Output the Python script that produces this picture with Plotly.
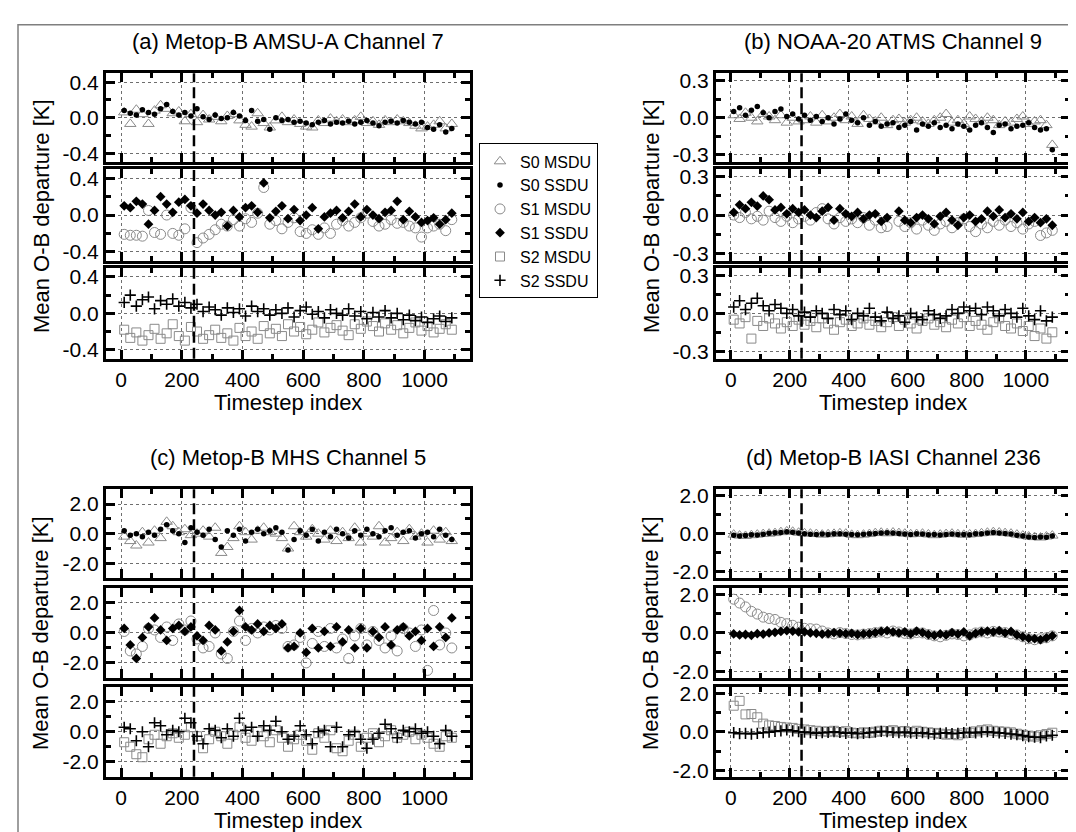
import plotly.graph_objects as go

W, H = 1076, 832

# ---------------- data (timestep index, mean O-B departure in K) ----------------
timesteps = list(range(10, 1100, 20))

a_s0_msdu = [0.06, -0.07, 0.09, 0.04, -0.07, 0.08, 0.14, 0.10, 0.05, 0.07, -0.04, 0.04,
             -0.05, 0.03, -0.02, 0.01, -0.04, 0.02, 0.04, -0.03, -0.08, -0.10, 0.05, -0.06,
             -0.11, -0.03, 0.01, -0.05, -0.02, -0.07, -0.10, -0.11, -0.03, -0.06, -0.01, -0.04,
             -0.02, -0.05, -0.03, 0.01, -0.06, -0.04, -0.08, -0.03, -0.05, -0.02, -0.04, -0.06,
             -0.09, -0.12, -0.10, -0.08, -0.04, -0.12, -0.07]
a_s0_ssdu = [0.08, 0.05, 0.03, 0.09, 0.06, 0.04, 0.10, 0.15, 0.07, 0.03, 0.06, 0.02,
             0.10, 0.01, -0.02, 0.03, -0.01, 0.00, 0.06, 0.02, -0.03, 0.08, -0.04, -0.02,
             -0.13, 0.00, -0.03, -0.02, -0.05, -0.04, -0.06, -0.08, -0.05, -0.03, -0.07, -0.05,
             -0.06, -0.04, -0.07, -0.05, -0.03, -0.06, -0.09, -0.05, -0.04, -0.06, -0.03, -0.05,
             -0.07, -0.05, -0.11, -0.13, -0.08, -0.16, -0.12]
a_s1_msdu = [-0.21, -0.22, -0.22, -0.23, 0.05, -0.19, -0.21, 0.00, -0.20, -0.22, -0.15, 0.08,
             -0.30, -0.25, -0.21, -0.16, -0.10, -0.12, -0.05, -0.12, -0.04, -0.08, 0.02, 0.30,
             -0.10, -0.06, -0.15, -0.08, -0.03, -0.18, -0.20, -0.16, -0.21, -0.14, -0.20, -0.10,
             -0.06, -0.12, -0.08, -0.03, 0.02, -0.07, -0.12, -0.10, -0.05, -0.09, -0.08, -0.12,
             -0.14, -0.24, -0.14, -0.12, -0.10, -0.17, -0.05]
a_s1_ssdu = [0.10, 0.08, 0.15, 0.12, -0.10, 0.05, 0.20, 0.12, 0.03, 0.14, 0.17, 0.10,
             0.02, 0.12, 0.05, 0.00, 0.03, -0.12, 0.05, -0.02, 0.08, 0.10, 0.03, 0.35,
             -0.03, 0.04, 0.10, -0.04, 0.06, -0.06, 0.00, 0.08, -0.15, -0.02, 0.02, 0.05,
             -0.03, 0.04, 0.12, -0.02, 0.06, 0.00, -0.04, 0.03, 0.05, 0.15, -0.05, 0.04,
             -0.02, -0.08, -0.06, -0.03, -0.10, -0.05, 0.02]
a_s2_msdu = [-0.18, -0.27, -0.21, -0.30, -0.24, -0.17, -0.28, -0.22, -0.12, -0.25, -0.30, -0.15,
             -0.20, -0.28, -0.24, -0.18, -0.27, -0.22, -0.30, -0.16, -0.25, -0.20, -0.28, -0.14,
             -0.22, -0.17, -0.25, -0.12, -0.20, -0.15, -0.23, -0.18, -0.10, -0.21, -0.16, -0.13,
             -0.19, -0.24, -0.12, -0.17, -0.09, -0.14, -0.20, -0.11, -0.18, -0.13, -0.22, -0.16,
             -0.10, -0.19, -0.14, -0.21, -0.17, -0.12, -0.18]
a_s2_ssdu = [0.12, 0.20, 0.08, 0.15, 0.18, 0.05, 0.14, 0.10, 0.16, 0.08, 0.12, 0.06,
             0.10, 0.02, 0.07, 0.04, -0.02, 0.06, 0.01, 0.05, -0.03, 0.08, 0.02, 0.05,
             -0.02, 0.04, 0.00, 0.06, -0.04, 0.03, 0.07, -0.01, 0.02, -0.05, 0.04, 0.00,
             -0.02, 0.05, -0.03, 0.02, -0.06, 0.01, -0.04, 0.03, -0.05, 0.00, -0.07, -0.02,
             -0.08, -0.04, -0.10, -0.06, -0.03, -0.09, -0.05]

b_s0_msdu = [0.02, -0.01, 0.04, 0.00, -0.03, 0.03, 0.01, -0.02, 0.02, -0.04, 0.00, -0.03,
             -0.02, 0.01, -0.04, 0.02, -0.03, 0.00, 0.03, -0.02, 0.01, -0.05, 0.02, -0.01,
             -0.03, 0.00, -0.06, -0.02, -0.01, -0.04, -0.02, 0.00, -0.03, -0.05, -0.02, 0.00,
             0.03, -0.04, -0.02, -0.05, 0.01, -0.01, -0.03, 0.00, -0.02, -0.06, -0.03, -0.04,
             -0.01, 0.01, -0.05, -0.03, -0.02, -0.06, -0.22]
b_s0_ssdu = [0.05, 0.08, 0.02, 0.06, 0.09, 0.04, 0.00, 0.05, 0.07, 0.01, 0.03, -0.01,
             0.02, -0.02, 0.01, -0.03, 0.00, -0.05, -0.01, 0.03, -0.02, -0.04, 0.00, -0.06,
             -0.03, -0.07, -0.05, -0.04, -0.08, -0.06, -0.03, -0.10, -0.05, -0.07, -0.04, -0.08,
             -0.06, -0.09, -0.05, -0.07, -0.10, -0.06, -0.04, -0.08, -0.12, -0.06, -0.05, -0.09,
             -0.07, -0.06, -0.04, -0.08, -0.10, -0.09, -0.26]
b_s1_msdu = [0.00, -0.02, 0.02, -0.03, -0.01, -0.04, 0.03, -0.02, -0.05, -0.01, -0.06, -0.03,
             -0.01, -0.04, 0.02, 0.05, -0.03, -0.07, -0.02, -0.05, -0.03, -0.06, -0.02, -0.08,
             -0.04, -0.10, -0.09, None, -0.05, -0.09, -0.06, -0.11, -0.04, -0.08, -0.12, -0.07,
             -0.05, -0.10, -0.06, -0.03, -0.09, -0.13, -0.07, -0.10, -0.05, -0.08, -0.04, -0.09,
             -0.06, -0.11, -0.07, -0.05, -0.16, -0.14, -0.12]
b_s1_ssdu = [0.02, 0.08, 0.05, 0.10, 0.07, 0.15, 0.12, 0.04, 0.06, 0.01, 0.05, 0.02,
             0.04, 0.00, -0.02, 0.03, 0.06, -0.04, 0.05, 0.01, -0.01, 0.02, -0.03, 0.00,
             0.01, -0.05, -0.02, None, 0.03, -0.04, -0.06, -0.02, 0.00, -0.03, -0.07, -0.01,
             0.02, -0.04, -0.08, -0.02, 0.00, -0.05, -0.03, 0.03, -0.01, 0.04, -0.02, 0.01,
             -0.03, 0.02, -0.05, -0.02, -0.06, -0.03, -0.08]
b_s2_msdu = [-0.05, -0.08, -0.03, -0.20, -0.06, -0.10, -0.04, -0.08, -0.12, -0.07, -0.10, -0.05,
             -0.09, -0.06, -0.11, -0.04, -0.08, -0.13, -0.07, -0.05, -0.10, -0.08, -0.04, -0.09,
             -0.06, -0.11, -0.07, -0.03, -0.10, -0.05, -0.08, -0.12, -0.06, -0.04, -0.09, -0.07,
             -0.11, -0.05, -0.08, -0.03, -0.10, -0.06, -0.09, -0.13, -0.07, -0.04, -0.10, -0.12,
             -0.08, -0.14, -0.10, -0.18, -0.12, -0.20, -0.15]
b_s2_ssdu = [0.05, 0.10, 0.03, 0.08, 0.12, 0.06, 0.02, 0.07, 0.04, 0.00, 0.03, -0.02,
             0.01, -0.03, 0.02, 0.00, -0.04, 0.03, -0.01, 0.02, -0.05, 0.00, -0.02, 0.04,
             -0.03, -0.06, 0.01, -0.04, -0.02, -0.07, 0.00, -0.03, -0.05, 0.02, -0.01, -0.04,
             -0.02, 0.03, 0.00, 0.05, 0.02, 0.04, -0.01, 0.05, 0.02, -0.02, 0.03, 0.00,
             -0.03, 0.04, -0.02, -0.05, 0.02, -0.06, -0.03]

c_s0_msdu = [-0.2, -0.5, -0.8, 0.1, -0.6, 0.2, -0.3, 0.8, 0.5, 0.1, 0.3, -0.1,
             0.0, 0.2, -0.2, 0.4, -1.3, -0.9, -0.3, 0.5, 0.1, -0.4, 0.2, 0.4,
             0.1, 0.0, -0.3, -1.0, 0.5, 0.1, -0.2, 0.3, 0.0, -0.4, 0.2, -0.5,
             0.1, -0.3, 0.4, -0.6, 0.0, -0.2, 0.5, -0.6, -0.3, 0.1, -0.5, 0.3,
             -0.2, 0.0, -0.6, 0.2, -0.4, 0.1, -0.5]
c_s0_ssdu = [0.2, -0.1, 0.0, -0.2, 0.1, -0.1, 0.3, 0.6, 0.2, 0.0, -0.6, 0.4,
             0.1, -0.1, 0.3, -0.4, -0.9, 0.2, -0.1, 0.3, -0.5, 0.1, 0.3, 0.0,
             0.2, 0.4, 0.1, -1.1, -0.4, 0.2, -0.1, 0.3, -0.5, 0.1, -0.2, 0.3,
             0.0, -0.3, 0.2, -0.1, 0.3, 0.0, -0.2, 0.2, 0.4, -0.1, 0.1, 0.2,
             -0.3, 0.0, 0.1, -0.2, 0.3, -0.1, -0.4]
c_s1_msdu = [0.1, -1.2, -1.4, -0.9, 0.3, 0.2, -0.3, 0.4, -0.5, 0.6, 0.2, 0.8,
             -0.4, -1.0, -0.9, 0.0, -1.4, -1.7, 0.1, 0.8, -0.5, 0.3, 0.0, 0.4,
             0.2, 0.5, 0.3, -0.9, -0.8, -0.3, -2.0, -0.7, 0.1, -0.9, 0.3, -1.0,
             -0.4, -1.7, -0.2, 0.3, -0.8, 0.1, -0.5, -1.0, -0.2, -1.2, 0.3, 0.0,
             -0.9, 0.2, -2.5, 1.5, -0.8, 0.0, -1.0]
c_s1_ssdu = [0.3, -0.8, -1.7, -0.3, 0.4, 1.0, 0.2, -0.5, 0.3, 0.5, 0.1, 0.4,
             -0.2, -0.5, 0.5, 0.2, -1.2, -0.6, 0.1, 1.5, 0.4, 0.2, 0.6, 0.1,
             0.5, 0.3, 0.6, -1.0, -0.9, 0.0, -1.3, 0.3, -1.0, 0.1, -0.9, 0.4,
             -0.6, 0.2, -1.0, 0.3, -1.0, 0.1, -0.3, 0.4, -0.8, 0.2, 0.4, -0.2,
             0.1, -0.5, 0.3, -0.9, 0.4, -0.3, 1.0]
c_s2_msdu = [-0.7, -1.0, -1.5, -1.7, -0.5, -0.2, -0.8, -0.3, -0.1, -0.4, -0.2, 0.3,
             -0.3, -1.1, -0.5, 0.0, -0.3, -0.8, -0.2, 0.3, -0.4, -0.6, 0.0, -0.3,
             -0.7, 0.1, -0.4, -1.0, -0.5, -0.2, -0.6, -1.2, -0.1, -0.4, 0.1, -1.1,
             -1.3, -0.6, -0.2, -1.0, -0.4, -0.1, -0.7, -0.3, 0.1, -0.4, -0.2, 0.0,
             -0.5, -0.2, -0.4, -0.8, -1.0, -0.3, -0.4]
c_s2_ssdu = [0.3, 0.2, -0.6, 0.0, -1.0, 0.6, 0.4, -0.2, 0.1, 0.0, 0.9, 0.6,
             -0.3, -0.8, 0.2, 0.1, -0.4, 0.2, -0.3, 0.9, 0.1, 0.3, -0.3, 0.4,
             0.1, 0.7, 0.0, -0.5, -0.3, 0.4, -0.2, -0.8, 0.0, 0.1, -1.0, 0.3,
             -1.0, -0.2, 0.0, -0.5, -1.1, -0.5, -0.1, 0.5, 0.2, -0.4, 0.1, 0.0,
             0.2, -0.1, 0.0, -0.3, -0.8, 0.1, -0.3]

d_s0_msdu = [-0.05, -0.10, -0.12, -0.08, -0.05, -0.02, 0.00, 0.03, 0.08, 0.12, 0.10, 0.05,
             0.02, 0.00, -0.02, -0.05, -0.03, -0.01, 0.02, 0.00, -0.06, -0.08, -0.05, -0.02,
             0.03, 0.05, 0.02, 0.06, 0.03, 0.00, -0.03, -0.02, 0.00, -0.04, -0.08, -0.05,
             -0.02, 0.00, -0.03, -0.06, -0.04, -0.02, 0.02, 0.05, 0.08, 0.06, 0.03, 0.00,
             -0.05, -0.10, -0.15, -0.18, -0.20, -0.15, -0.10]
d_s0_ssdu = [-0.08, -0.12, -0.10, -0.06, -0.07, -0.03, 0.02, 0.05, 0.06, 0.10, 0.08, 0.03,
             0.00, -0.03, -0.04, -0.02, -0.05, 0.00, 0.00, -0.03, -0.05, -0.06, -0.03, 0.00,
             0.01, 0.04, 0.05, 0.03, 0.01, -0.02, -0.04, 0.00, -0.02, -0.06, -0.05, -0.07,
             -0.04, -0.02, -0.05, -0.04, -0.06, -0.01, 0.00, 0.03, 0.06, 0.04, 0.01, -0.02,
             -0.08, -0.12, -0.18, -0.20, -0.17, -0.19, -0.12]
d_s1_msdu = [1.75, 1.55, 1.35, 1.12, 0.98, 0.82, 0.75, 0.70, 0.55, 0.48, 0.40, 0.30,
             0.24, 0.22, 0.20, 0.10, 0.00, -0.05, 0.02, -0.03, -0.08, -0.10, -0.06, -0.03,
             0.02, 0.05, 0.00, 0.10, 0.05, -0.02, -0.05, 0.02, 0.00, -0.08, -0.15, -0.20,
             -0.12, -0.05, -0.08, -0.15, -0.10, 0.00, 0.05, 0.00, 0.08, 0.05, 0.02, -0.05,
             -0.10, -0.20, -0.30, -0.35, -0.30, -0.25, -0.15]
d_s1_ssdu = [-0.05, -0.10, -0.08, -0.12, -0.04, -0.06, 0.00, 0.03, 0.08, 0.12, 0.10, 0.05,
             0.06, 0.00, -0.02, -0.06, -0.03, 0.02, -0.01, -0.04, -0.02, -0.08, -0.05, -0.03,
             0.02, 0.08, 0.12, 0.05, 0.00, 0.06, -0.05, 0.10, 0.02, -0.08, -0.12, -0.05,
             -0.10, 0.02, -0.06, 0.05, -0.15, -0.02, 0.06, 0.10, 0.05, 0.12, 0.00, 0.08,
             -0.10, -0.20, -0.28, -0.30, -0.35, -0.25, -0.15]
d_s2_msdu = [1.35, 1.60, 0.90, 0.92, 0.75, 0.42, 0.33, 0.30, 0.25, 0.22, 0.20, 0.15,
             0.12, 0.08, 0.05, 0.02, 0.00, 0.05, -0.02, 0.03, -0.05, -0.08, -0.03, -0.06,
             0.00, 0.05, 0.03, 0.08, 0.02, 0.04, -0.02, 0.05, 0.00, -0.03, -0.06, -0.10,
             -0.15, -0.12, -0.18, -0.08, -0.05, 0.02, 0.08, 0.12, 0.05, 0.02, 0.00, -0.03,
             -0.10, -0.15, -0.20, -0.25, -0.18, -0.12, -0.05]
d_s2_ssdu = [-0.05, -0.10, -0.08, -0.12, -0.08, -0.05, -0.02, 0.02, 0.05, 0.10, 0.05, 0.00,
             -0.02, -0.05, -0.08, -0.05, -0.03, 0.00, -0.04, -0.08, -0.06, -0.10, -0.08, -0.05,
             -0.02, 0.02, 0.00, -0.03, -0.05, -0.02, -0.06, -0.08, -0.05, -0.10, -0.12, -0.08,
             -0.06, -0.10, -0.08, -0.05, -0.03, -0.06, -0.02, 0.00, -0.03, -0.06, -0.08, -0.12,
             -0.15, -0.20, -0.25, -0.28, -0.30, -0.22, -0.18]

panel_titles = ["(a) Metop-B AMSU-A Channel 7", "(b) NOAA-20 ATMS Channel 9",
                "(c) Metop-B MHS Channel 5", "(d) Metop-B IASI Channel 236"]
series_names = [("S0 MSDU", "S0 SSDU"), ("S1 MSDU", "S1 SSDU"), ("S2 MSDU", "S2 SSDU")]
x_ticks = [0, 200, 400, 600, 800, 1000]
x_minor = [100, 300, 500, 700, 900, 1100]
y_major = [[-0.4, 0.0, 0.4], [-0.3, 0.0, 0.3], [-2.0, 0.0, 2.0], [-2.0, 0.0, 2.0]]
y_minor = [[-0.2, 0.2], [-0.15, 0.15], [-1.0, 1.0], [-1.0, 1.0]]
y_limits = [0.5, 0.36, 3.0, 2.33]
spinup_end = 240

panel_data = [
    [(a_s0_msdu, a_s0_ssdu), (a_s1_msdu, a_s1_ssdu), (a_s2_msdu, a_s2_ssdu)],
    [(b_s0_msdu, b_s0_ssdu), (b_s1_msdu, b_s1_ssdu), (b_s2_msdu, b_s2_ssdu)],
    [(c_s0_msdu, c_s0_ssdu), (c_s1_msdu, c_s1_ssdu), (c_s2_msdu, c_s2_ssdu)],
    [(d_s0_msdu, d_s0_ssdu), (d_s1_msdu, d_s1_ssdu), (d_s2_msdu, d_s2_ssdu)],
]

# ---------------- layout geometry (pixels) ----------------
FONT = "Liberation Sans, Arial, sans-serif"
col_px = [(98, 462), (708, 1062)]
row_px = [[(61, 151), (158, 251), (258, 350)], [(482, 572), (582, 673), (682, 773)]]
panel_pos = [(0, 0), (1, 0), (0, 1), (1, 1)]  # (col, row)

GREY = "#8a8a8a"
msdu_style = [dict(symbol="triangle-up-open", size=10, color=GREY, line=dict(width=1, color=GREY)),
              dict(symbol="circle-open", size=10, color=GREY, line=dict(width=1, color=GREY)),
              dict(symbol="square-open", size=9, color=GREY, line=dict(width=1, color=GREY))]
ssdu_style = [dict(symbol="circle", size=5.5, color="black"),
              dict(symbol="diamond", size=7.5, color="black"),
              dict(symbol="cross-thin", size=8, color="black", line=dict(width=1.6, color="black"))]

def px_x(v):
    return v / W

def px_y(v):
    return 1 - v / H

fig = go.Figure()
shapes = []
annotations = []
layout_axes = {}
n = 0
for p, title in enumerate(panel_titles):
    col, row = panel_pos[p]
    cx0, cx1 = col_px[col]
    for s in range(3):
        n += 1
        sfx = "" if n == 1 else str(n)
        ry0, ry1 = row_px[row][s]
        msdu, ssdu = panel_data[p][s]
        fig.add_trace(go.Scatter(x=timesteps, y=msdu, mode="markers", name=series_names[s][0],
                                 xaxis="x" + sfx, yaxis="y" + sfx, showlegend=(p == 0),
                                 marker=msdu_style[s]))
        fig.add_trace(go.Scatter(x=timesteps, y=ssdu, mode="markers", name=series_names[s][1],
                                 xaxis="x" + sfx, yaxis="y" + sfx, showlegend=(p == 0),
                                 marker=ssdu_style[s]))
        common = dict(showline=True, linewidth=3, linecolor="black", mirror="allticks",
                      ticks="inside", ticklen=9, tickwidth=3, tickcolor="black",
                      showgrid=True, gridcolor="#6e6e6e", gridwidth=1, griddash="dot",
                      zeroline=False, tickfont=dict(family=FONT, size=21, color="black"))
        layout_axes["xaxis" + sfx] = dict(
            domain=[px_x(cx0), px_x(cx1)], anchor="y" + sfx, range=[-50, 1150],
            tickvals=x_ticks, ticktext=[str(v) for v in x_ticks], showticklabels=(s == 2),
            minor=dict(tickvals=x_minor, ticks="inside", ticklen=5, tickwidth=3,
                       tickcolor="black", showgrid=False),
            **common)
        lim = y_limits[p]
        fmt = "{:.1f}"
        layout_axes["yaxis" + sfx] = dict(
            domain=[px_y(ry1), px_y(ry0)], anchor="x" + sfx, range=[-lim, lim],
            tickvals=y_major[p], ticktext=[fmt.format(v) for v in y_major[p]],
            minor=dict(tickvals=y_minor[p], ticks="inside", ticklen=5, tickwidth=3,
                       tickcolor="black", showgrid=False),
            **common)
        shapes.append(dict(type="line", xref="x" + sfx, yref="y" + sfx + " domain",
                           x0=spinup_end, x1=spinup_end, y0=0, y1=1,
                           line=dict(color="black", width=2.5, dash="11px,5px"), layer="above"))
    # titles
    top = row_px[row][0][0]
    bottom = row_px[row][2][1]
    annotations.append(dict(text=title, x=px_x((cx0 + cx1) / 2), y=px_y(top - 32), xref="paper",
                            yref="paper", showarrow=False, xanchor="center", yanchor="middle",
                            font=dict(family=FONT, size=22, color="black")))
    annotations.append(dict(text="Timestep index", x=px_x((cx0 + cx1) / 2), y=px_y(bottom + 44),
                            xref="paper", yref="paper", showarrow=False, xanchor="center",
                            yanchor="middle", font=dict(family=FONT, size=22, color="black")))
    annotations.append(dict(text="Mean O-B departure [K]", x=px_x(cx0 - 65), y=px_y((top + bottom) / 2),
                            xref="paper", yref="paper", showarrow=False, textangle=-90,
                            xanchor="center", yanchor="middle",
                            font=dict(family=FONT, size=22, color="black")))

# outer frame
shapes.append(dict(type="rect", xref="paper", yref="paper", x0=px_x(10), x1=px_x(1075),
                   y0=px_y(831), y1=px_y(12), line=dict(color="#7f7f7f", width=1.5), layer="below"))

fig.update_layout(
    width=W, height=H, margin=dict(l=0, r=0, t=0, b=0),
    paper_bgcolor="white", plot_bgcolor="white",
    shapes=shapes, annotations=annotations,
    legend=dict(x=px_x(471), y=px_y(132), xanchor="left", yanchor="top",
                bordercolor="black", borderwidth=1, bgcolor="white",
                font=dict(family=FONT, size=16, color="black"),
                itemsizing="trace", tracegroupgap=0),
    showlegend=True,
    **layout_axes,
)

fig.write_html("out.html")
